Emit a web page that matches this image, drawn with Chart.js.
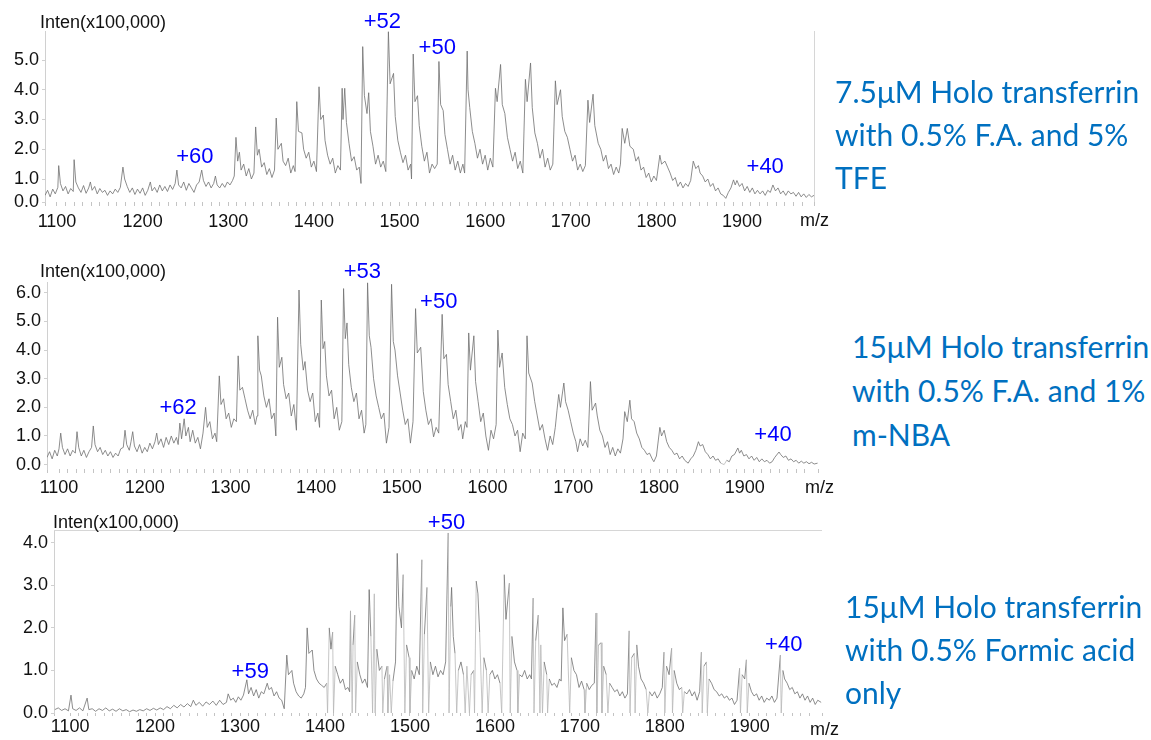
<!DOCTYPE html>
<html>
<head>
<meta charset="utf-8">
<script src="https://cdn.jsdelivr.net/npm/chart.js@4.4.1/dist/chart.umd.min.js"></script>
<style>
  body { margin: 0; background: #fff; width: 1151px; height: 740px; overflow: hidden; position: relative; }
  .panel { position: absolute; left: 0; }
  .note { position: absolute; color: #0070c0; font-family: Lato, "Open Sans", sans-serif; font-size: 30px; line-height: 43px; white-space: nowrap; }
</style>
</head>
<body>
<div class="panel" style="top:0"><canvas id="c1" width="850" height="236"></canvas></div>
<div class="panel" style="top:250px"><canvas id="c2" width="850" height="250"></canvas></div>
<div class="panel" style="top:500px"><canvas id="c3" width="850" height="240"></canvas></div>

<div class="note" style="left:835px;top:70px">7.5μM Holo transferrin<br>with 0.5% F.A. and 5%<br>TFE</div>
<div class="note" style="left:852px;top:324px;line-height:44px">15μM Holo transferrin<br>with 0.5% F.A. and 1%<br>m-NBA</div>
<div class="note" style="left:845px;top:585px">15μM Holo transferrin<br>with 0.5% Formic acid<br>only</div>

<script>
// spectra: [m/z, intensity (x100,000)]
const spec1 = [
  [1086,0.45],[1089,0.62],[1092,0.4],[1095,0.66],[1098,0.5],[1101,0.72],[1102,1.45],[1104,0.85],[1107,0.6],[1110,0.75],
  [1113,0.5],[1116,0.68],[1119,0.58],[1120,1.65],[1122,0.9],[1125,0.7],[1128,0.55],[1131,0.78],[1134,0.52],[1137,0.7],
  [1139,0.9],[1141,0.62],[1144,0.75],[1147,0.5],[1150,0.68],[1153,0.55],[1156,0.62],[1159,0.45],[1162,0.6],[1165,0.5],
  [1168,0.66],[1171,0.55],[1174,0.72],[1177,1.4],[1179,1.0],[1182,0.75],[1185,0.55],[1188,0.7],[1191,0.48],[1194,0.66],
  [1197,0.52],[1200,0.7],[1203,0.45],[1206,0.62],[1209,0.9],[1211,0.6],[1214,0.72],[1217,0.55],[1220,0.8],[1223,0.6],
  [1226,0.75],[1229,0.58],[1232,0.8],[1235,0.65],[1238,0.85],[1240,1.3],[1242,0.8],[1245,0.7],[1248,0.9],[1251,0.62],
  [1254,0.85],[1257,0.7],[1260,0.55],[1263,0.8],[1266,0.9],[1269,1.3],[1271,0.95],[1274,0.75],[1277,0.9],[1280,0.7],
  [1283,0.85],[1285,1.1],[1287,0.8],[1290,0.7],[1293,0.85],[1296,0.72],[1299,0.9],[1302,0.8],[1305,0.95],[1307,1.1],
  [1309,2.4],[1311,1.6],[1313,1.9],[1315,1.3],[1318,1.5],[1321,1.1],[1324,1.35],[1327,1.0],[1330,1.2],
  [1332,2.75],[1334,1.8],[1336,2.0],[1339,1.4],[1342,1.55],[1345,1.15],[1348,1.35],[1351,1.05],[1354,1.3],
  [1356,3.05],[1358,2.0],[1362,2.2],[1364,1.6],[1367,1.45],[1370,1.7],[1373,1.2],[1376,1.45],[1378,1.25],
  [1380,3.6],[1382,2.6],[1386,2.55],[1388,2.0],[1391,1.7],[1394,1.9],[1397,1.4],[1400,1.6],[1403,1.25],
  [1406,4.1],[1408,3.0],[1411,3.15],[1413,2.3],[1416,1.8],[1419,1.5],[1422,1.7],[1425,1.2],[1428,1.45],[1431,1.3],
  [1433,4.05],[1434,3.0],[1436,4.05],[1438,2.9],[1441,2.2],[1444,1.6],[1447,1.75],[1450,1.3],[1453,1.4],[1455,0.85],
  [1457,5.45],[1459,3.8],[1462,3.2],[1464,3.9],[1466,2.6],[1469,2.1],[1472,1.5],[1475,1.8],[1478,1.4],[1481,1.6],[1484,1.25],
  [1487,5.95],[1489,4.2],[1493,4.55],[1495,3.1],[1498,2.3],[1501,1.9],[1504,1.55],[1507,1.8],[1510,1.3],[1513,1.5],[1514,1.0],
  [1516,5.2],[1518,3.6],[1521,3.8],[1523,2.8],[1526,2.1],[1529,1.6],[1532,1.9],[1535,1.2],[1538,1.5],[1541,1.35],[1544,1.5],
  [1546,4.95],[1548,3.5],[1551,3.3],[1553,2.5],[1556,2.0],[1559,1.5],[1562,1.8],[1565,1.3],[1568,1.6],[1571,1.2],[1574,1.5],[1576,1.2],
  [1579,5.3],[1580,4.0],[1582,3.4],[1585,2.6],[1588,2.2],[1591,1.7],[1594,2.0],[1597,1.5],[1600,1.8],[1603,1.3],[1606,1.7],[1609,1.4],
  [1612,4.05],[1614,3.6],[1618,4.85],[1620,3.5],[1623,3.2],[1626,2.4],[1629,2.0],[1632,1.6],[1635,1.9],[1638,1.35],[1641,1.6],[1644,1.2],
  [1647,4.35],[1649,3.6],[1653,4.9],[1655,3.4],[1658,2.55],[1661,2.2],[1664,1.7],[1667,2.0],[1670,1.4],[1673,1.7],[1676,1.3],[1679,1.5],
  [1682,4.3],[1684,3.5],[1688,4.0],[1690,3.1],[1693,2.6],[1696,2.4],[1699,2.0],[1702,1.6],[1705,1.8],[1708,1.3],[1711,1.5],[1714,1.25],[1717,1.45],
  [1720,3.65],[1722,2.9],[1726,3.85],[1728,2.8],[1732,2.2],[1735,2.0],[1738,1.6],[1741,1.8],[1744,1.35],[1747,1.5],[1750,1.15],[1753,1.4],[1756,1.2],[1758,1.5],
  [1760,2.7],[1763,2.2],[1766,2.7],[1769,2.1],[1773,2.0],[1776,1.6],[1779,1.75],[1782,1.3],[1785,1.4],[1788,1.05],[1791,1.2],[1794,0.9],[1797,1.1],[1800,0.95],
  [1804,1.8],[1806,1.5],[1810,1.6],[1813,1.4],[1816,1.2],[1819,0.95],[1822,1.05],[1825,0.75],[1828,0.9],[1831,0.7],[1834,0.85],[1837,0.75],[1840,0.95],
  [1843,1.6],[1846,1.35],[1849,1.45],[1851,1.2],[1854,1.1],[1857,0.9],[1860,1.0],[1863,0.75],[1866,0.85],[1869,0.6],[1872,0.7],[1875,0.5],[1878,0.45],[1881,0.35],[1884,0.55],[1887,0.7],
  [1890,0.97],[1892,0.8],[1894,0.95],[1897,0.75],[1900,0.85],[1903,0.6],[1906,0.75],[1909,0.55],[1912,0.7],[1915,0.5],[1918,0.62],[1921,0.5],[1924,0.6],[1927,0.45],[1930,0.62],[1933,0.55],
  [1936,0.8],[1939,0.6],[1942,0.7],[1945,0.5],[1948,0.6],[1951,0.45],[1954,0.6],[1957,0.5],[1960,0.55],[1963,0.42],[1966,0.55],[1969,0.4],[1972,0.5],[1975,0.38],[1978,0.48],[1981,0.4],[1984,0.45]
];

const spec2 = [
  [1086,0.25],[1089,0.45],[1092,0.2],[1095,0.5],[1098,0.3],[1100,0.55],[1102,1.1],[1104,0.6],[1107,0.35],[1110,0.55],
  [1113,0.3],[1116,0.5],[1119,0.4],[1121,1.15],[1123,0.6],[1126,0.3],[1129,0.5],[1132,0.25],[1135,0.45],[1138,0.6],
  [1140,1.35],[1142,0.7],[1145,0.45],[1148,0.6],[1151,0.35],[1154,0.5],[1157,0.3],[1160,0.45],[1163,0.25],[1166,0.4],
  [1169,0.3],[1172,0.55],[1175,0.6],[1177,1.2],[1179,0.7],[1182,0.5],[1184,0.8],[1186,1.15],[1188,0.65],[1191,0.45],
  [1194,0.7],[1197,0.4],[1200,0.6],[1203,0.45],[1206,0.75],[1209,0.55],[1212,0.8],[1214,1.1],[1216,0.7],[1219,0.9],
  [1222,0.6],[1225,0.95],[1228,0.7],[1231,1.0],[1234,0.75],[1237,0.95],[1239,0.7],[1241,1.45],[1243,0.9],[1246,1.6],
  [1248,1.0],[1251,1.3],[1253,0.8],[1256,1.2],[1259,0.75],[1262,0.95],[1265,0.55],[1268,1.1],[1271,2.0],[1273,1.3],
  [1276,1.5],[1279,0.9],[1282,1.1],[1284,0.8],
  [1287,3.1],[1289,2.1],[1292,2.3],[1295,1.6],[1298,1.8],[1301,1.3],[1304,1.6],[1307,1.5],
  [1309,3.8],[1311,2.6],[1314,2.7],[1317,2.3],[1320,1.9],[1323,1.6],[1326,1.9],[1329,1.4],[1331,1.7],
  [1332,4.5],[1334,3.3],[1336,3.1],[1339,2.4],[1342,2.0],[1345,2.3],[1348,1.6],[1351,1.8],[1353,1.0],
  [1355,5.15],[1357,3.4],[1360,3.75],[1362,2.8],[1365,2.3],[1368,2.5],[1371,1.7],[1374,2.1],[1377,1.2],
  [1380,6.1],[1382,4.2],[1385,3.3],[1387,3.6],[1390,2.6],[1393,2.2],[1396,2.5],[1399,1.5],[1402,1.8],[1404,1.3],
  [1406,5.75],[1408,4.05],[1410,4.3],[1412,3.1],[1415,2.4],[1418,2.6],[1421,1.6],[1424,2.0],[1427,1.2],[1430,1.5],
  [1432,6.15],[1434,4.4],[1436,4.95],[1438,3.5],[1441,2.7],[1444,2.2],[1447,2.5],[1450,1.6],[1453,1.9],[1456,1.1],[1458,1.4],
  [1460,6.35],[1462,4.5],[1464,4.1],[1467,3.0],[1470,2.4],[1473,2.0],[1476,1.6],[1479,1.8],[1482,0.75],[1485,1.3],
  [1488,6.3],[1490,4.3],[1492,4.0],[1495,3.1],[1498,2.5],[1501,1.9],[1504,1.4],[1507,1.6],[1510,0.75],[1513,1.5],
  [1516,5.45],[1518,3.9],[1522,4.1],[1525,2.55],[1528,1.9],[1531,1.4],[1534,1.6],[1537,0.97],[1540,1.3],[1543,1.1],
  [1547,5.25],[1549,3.7],[1552,3.85],[1554,2.8],[1557,2.2],[1560,1.6],[1563,1.9],[1566,1.2],[1569,1.4],[1571,0.9],[1574,1.5],[1576,1.3],
  [1578,4.6],[1580,3.3],[1584,4.5],[1586,2.9],[1589,2.2],[1592,1.5],[1595,1.8],[1598,1.0],[1601,0.5],[1604,1.2],[1607,0.9],[1610,1.4],
  [1612,4.7],[1614,3.4],[1617,3.9],[1620,2.7],[1623,2.1],[1626,1.6],[1629,1.4],[1632,1.0],[1635,1.2],[1638,0.45],[1641,1.1],[1644,0.9],
  [1646,4.5],[1648,3.2],[1652,2.85],[1655,2.2],[1658,1.7],[1661,1.2],[1664,1.4],[1667,0.9],[1670,0.5],[1673,1.0],[1676,0.7],[1679,1.3],[1681,1.9],
  [1683,2.45],[1685,2.0],[1689,2.85],[1691,2.2],[1694,1.9],[1697,1.5],[1700,1.1],[1703,0.8],[1705,0.45],[1708,0.9],[1711,0.65],[1714,0.85],[1717,0.6],
  [1720,2.9],[1722,1.9],[1726,2.15],[1728,1.7],[1731,1.2],[1734,1.0],[1737,0.6],[1740,0.8],[1743,0.35],[1746,0.6],[1749,0.3],[1752,0.55],[1755,0.4],[1758,0.9],
  [1760,1.85],[1763,1.5],[1766,2.25],[1768,1.6],[1771,1.5],[1774,1.1],[1777,0.9],[1780,0.6],[1783,0.5],[1786,0.35],[1789,0.4],[1792,0.2],[1794,0.1],[1797,0.3],
  [1801,1.3],[1803,1.0],[1806,1.2],[1809,0.8],[1812,0.6],[1815,0.5],[1818,0.35],[1821,0.4],[1824,0.2],[1827,0.3],[1830,0.15],[1834,0.05],[1837,0.2],[1840,0.3],[1843,0.5],
  [1846,0.8],[1848,0.65],[1851,0.7],[1854,0.45],[1857,0.35],[1860,0.2],[1863,0.3],[1866,0.15],[1869,0.2],[1872,0.05],[1876,0.0],[1879,0.15],[1882,0.1],[1885,0.3],[1888,0.35],
  [1892,0.58],[1894,0.4],[1896,0.5],[1899,0.3],[1902,0.35],[1905,0.2],[1908,0.3],[1911,0.15],[1914,0.25],[1917,0.1],[1920,0.2],[1923,0.1],[1926,0.15],[1929,0.05],[1932,0.1],[1935,0.25],
  [1940,0.44],[1942,0.35],[1945,0.25],[1948,0.3],[1951,0.15],[1954,0.2],[1957,0.1],[1960,0.15],[1963,0.05],[1966,0.12],[1969,0.05],[1972,0.1],[1975,0.03],[1978,0.08],[1981,0.02],[1985,0.05]
];

const spec3 = [
  [1082,0.08],[1086,0.12],[1090,0.06],[1094,0.1],[1098,0.05],[1101,0.42],[1103,0.1],[1107,0.06],[1111,0.12],[1115,0.05],
  [1120,0.35],[1122,0.08],[1126,0.1],[1130,0.04],[1134,0.1],[1138,0.06],[1142,0.12],[1146,0.05],[1150,0.09],[1154,0.04],
  [1158,0.1],[1162,0.05],[1166,0.08],[1170,0.03],[1174,0.07],[1178,0.04],[1182,0.08],[1186,0.05],[1190,0.1],[1194,0.06],
  [1198,0.11],[1202,0.07],[1206,0.12],[1210,0.08],[1214,0.15],[1218,0.1],[1222,0.18],[1226,0.12],[1230,0.2],[1234,0.14],
  [1238,0.22],[1242,0.15],[1245,0.3],[1248,0.18],[1252,0.25],[1256,0.16],[1260,0.26],[1264,0.2],[1268,0.28],[1272,0.18],
  [1276,0.3],[1280,0.2],[1284,0.25],[1286,0.45],[1289,0.3],[1292,0.35],[1295,0.25],[1298,0.38],[1301,0.3],[1304,0.42],
  [1308,0.78],[1310,0.45],[1313,0.6],[1316,0.4],[1319,0.55],[1322,0.35],[1325,0.5],[1328,0.45],
  [1332,0.7],[1334,0.55],[1337,0.6],[1340,0.4],[1343,0.5],[1346,0.35],[1349,0.3],[1352,0.1],
  [1355,1.36],[1357,0.9],[1361,1.0],[1363,0.7],[1366,0.5],[1369,0.4],[1372,0.35],[1375,0.45],[1377,0.6],
  [1379,2.0],[1381,1.4],[1385,1.48],[1387,1.0],[1390,0.8],[1393,0.7],[1396,0.65],[1399,0.6],[1402,0.7],[1403,0.0],
  [1405,2.0],[1407,1.5],[1409,1.9],[1410,0.0],[1412,1.1],[1415,0.9],[1418,0.7],[1421,0.8],[1424,0.55],[1427,0.6],[1429,0.5],
  [1430,2.4],[1432,0.0],[1433,1.6],[1435,2.3],[1436,0.0],[1438,1.2],[1441,0.9],[1444,0.7],[1447,0.8],[1450,0.6],
  [1452,2.9],[1454,1.8],[1456,0.0],[1458,2.8],[1459,0.0],[1461,1.5],[1464,1.0],[1467,1.1],[1468,0.0],[1470,0.8],[1473,1.1],[1474,0.0],[1476,0.9],[1478,0.0],[1480,0.75],[1483,1.2],
  [1485,3.75],[1487,2.5],[1490,2.0],[1492,3.25],[1494,0.0],[1496,1.6],[1499,1.3],[1500,0.0],[1502,1.0],[1505,0.8],[1508,1.1],[1511,0.9],
  [1514,3.6],[1515,0.0],[1517,1.85],[1520,2.95],[1522,0.0],[1524,1.2],[1527,0.9],[1530,1.1],[1533,0.85],[1536,1.0],[1539,0.9],[1542,1.2],
  [1545,4.23],[1546,0.0],[1548,2.5],[1549,2.95],[1551,1.8],[1553,1.4],[1555,0.0],[1557,1.0],[1560,1.2],[1563,0.9],[1565,0.0],[1567,1.1],[1570,0.0],[1572,0.9],[1575,1.0],[1576,0.0],
  [1578,3.1],[1580,2.8],[1582,1.9],[1585,0.0],[1587,1.3],[1590,1.0],[1592,0.0],[1594,0.9],[1597,1.0],[1600,0.8],[1603,0.9],[1606,0.7],[1608,0.0],
  [1611,3.25],[1613,2.2],[1617,3.05],[1618,0.0],[1620,1.8],[1623,1.2],[1626,1.0],[1627,0.0],[1629,0.9],[1632,0.85],[1635,1.0],[1638,0.8],[1641,0.9],[1643,0.8],
  [1645,2.7],[1646,0.0],[1648,1.7],[1651,2.3],[1653,0.0],[1654,1.6],[1656,0.0],[1658,1.2],[1661,0.9],[1662,0.0],[1664,0.8],[1667,0.65],[1670,0.7],[1673,0.6],[1676,0.8],[1678,0.75],
  [1680,2.47],[1682,1.7],[1685,1.85],[1688,0.0],[1690,1.3],[1693,1.0],[1696,0.9],[1699,0.6],[1702,0.75],[1705,0.55],[1706,0.0],[1708,0.7],[1711,0.55],[1714,0.65],[1717,0.7],
  [1719,2.35],[1720,0.0],[1722,1.6],[1725,1.65],[1726,0.0],[1728,1.1],[1731,0.9],[1733,0.0],[1735,0.7],[1738,0.6],[1741,0.5],[1744,0.55],[1747,0.4],[1750,0.5],[1753,0.35],[1756,0.45],
  [1758,1.93],[1759,0.0],[1761,1.3],[1764,1.4],[1765,0.0],[1767,1.6],[1769,1.1],[1772,0.8],[1775,0.7],[1778,0.55],[1780,0.0],[1782,0.5],[1785,0.4],[1788,0.5],[1791,0.35],[1794,0.45],[1797,0.6],
  [1799,1.43],[1800,0.0],[1802,1.1],[1805,0.9],[1808,1.52],[1809,0.0],[1811,1.0],[1814,0.7],[1817,0.55],[1820,0.6],[1821,0.0],[1823,0.5],[1826,0.45],[1829,0.55],[1832,0.4],[1835,0.5],[1838,0.3],[1841,0.5],
  [1843,1.43],[1844,0.0],[1846,1.1],[1849,1.2],[1850,0.0],[1852,0.8],[1855,0.7],[1858,0.55],[1861,0.5],[1864,0.4],[1867,0.45],[1870,0.35],[1873,0.4],[1876,0.3],[1879,0.35],[1882,0.2],[1885,0.3],
  [1888,1.05],[1889,0.0],[1891,0.9],[1894,0.8],[1896,1.25],[1897,0.0],[1899,0.7],[1902,0.5],[1905,0.4],[1908,0.45],[1911,0.3],[1914,0.4],[1917,0.25],[1920,0.35],[1923,0.3],[1926,0.4],[1929,0.25],[1932,0.35],
  [1936,1.36],[1937,0.0],[1939,1.0],[1941,0.8],[1944,0.7],[1947,0.55],[1950,0.6],[1953,0.45],[1956,0.5],[1959,0.35],[1962,0.45],[1965,0.3],[1968,0.4],[1971,0.25],[1974,0.35],[1977,0.2],[1980,0.3],[1984,0.25]
];

// y tick labels
const yTicks1 = [0, 1, 2, 3, 4, 5];
const yTicks2 = [0, 1, 2, 3, 4, 5, 6];
const yTicks3 = [0, 1, 2, 3, 4];

// charge state labels: text, m/z, intensity
const charge1 = ['+52', '+50', '+60', '+40'];
const chargeMz1 = [1480, 1544, 1261, 1927];
const chargeInt1 = [6.28, 5.4, 1.74, 1.4];

const charge2 = ['+53', '+50', '+62', '+40'];
const chargeMz2 = [1454, 1543, 1239, 1933];
const chargeInt2 = [6.73, 5.68, 1.98, 1.03];

const charge3 = ['+50', '+59', '+40'];
const chargeMz3 = [1543, 1312, 1940];
const chargeInt3 = [4.47, 0.96, 1.6];

const FONT = '"Liberation Sans", Arial, sans-serif';

const spectrumText = {
  id: 'spectrumText',
  afterDraw(chart, args, o) {
    const ctx = chart.ctx, a = chart.chartArea;
    const x = chart.scales.x, y = chart.scales.y;
    ctx.save();
    ctx.strokeStyle = '#d6d6d6';
    ctx.lineWidth = 1;
    if (o.rightBorder) {
      ctx.beginPath(); ctx.moveTo(a.right + 0.5, a.top); ctx.lineTo(a.right + 0.5, a.bottom); ctx.stroke();
    }
    if (o.topBorder) {
      ctx.beginPath(); ctx.moveTo(a.left, a.top + 0.5); ctx.lineTo(a.right, a.top + 0.5); ctx.stroke();
    }
    ctx.fillStyle = '#111';
    ctx.font = '18px ' + FONT;
    ctx.textBaseline = 'middle';
    ctx.textAlign = 'left';
    ctx.fillText('Inten(x100,000)', o.inten[0], o.inten[1]);
    ctx.fillText('m/z', o.mz[0], o.mz[1]);
    ctx.fillStyle = '#0000ff';
    ctx.font = '22px ' + FONT;
    ctx.textAlign = 'center';
    o.labels.forEach((t, i) => {
      ctx.fillText(t, x.getPixelForValue(o.labelMz[i]), y.getPixelForValue(o.labelInt[i]));
    });
    ctx.restore();
  }
};

function makeSpectrum(id, spec, yTicks, labels, labelMz, labelInt, g) {
  const canvas = document.getElementById(id);
  return new Chart(canvas, {
    type: 'line',
    data: {
      datasets: [{
        data: spec.map(p => ({ x: p[0], y: p[1] })),
        borderColor: '#707070',
        borderWidth: 0.8,
        pointRadius: 0,
        tension: 0,
        fill: false,
        // drop-outs to zero are drawn faint, as in the instrument trace
        segment: {
          borderColor: c => (c.p0.parsed.y === 0 || c.p1.parsed.y === 0 ? '#b8b8b8' : undefined)
        }
      }]
    },
    options: {
      responsive: false,
      animation: false,
      devicePixelRatio: 1,
      layout: { padding: { left: 0, right: canvas.width - g.right, top: g.top, bottom: 0 } },
      plugins: {
        legend: { display: false },
        tooltip: { enabled: false },
        spectrumText: {
          labels: labels, labelMz: labelMz, labelInt: labelInt,
          inten: g.inten, mz: g.mz, rightBorder: g.rightBorder, topBorder: g.topBorder
        }
      },
      scales: {
        x: {
          type: 'linear',
          min: g.xMin,
          max: g.xMax,
          afterFit: s => { s.height = canvas.height - g.bottom; },
          border: { display: false },
          grid: { drawOnChartArea: false, drawTicks: true, tickLength: g.tickLen, color: '#c4c4c4' },
          ticks: {
            stepSize: 10,
            autoSkip: false,
            maxRotation: 0,
            padding: g.tickPad,
            color: '#111',
            font: { family: FONT, size: 18 },
            callback: v => (Math.abs(v % 100) < 0.01 ? String(Math.round(v)) : '')
          }
        },
        y: {
          min: g.yMin,
          max: g.yMax,
          afterFit: s => { s.width = g.left; },
          afterBuildTicks: s => { s.ticks = yTicks.map(v => ({ value: Math.max(v, g.yMin) })); },
          border: { display: true, color: '#d0d0d0' },
          grid: { drawOnChartArea: false, drawTicks: true, tickLength: 3, color: '#d0d0d0' },
          ticks: {
            padding: 3,
            color: '#111',
            font: { family: FONT, size: 18 },
            callback: (v, i) => yTicks[i].toFixed(1)
          }
        }
      }
    },
    plugins: [spectrumText]
  });
}

makeSpectrum('c1', spec1, yTicks1, charge1, chargeMz1, chargeInt1, {
  left: 45, right: 814, top: 31, bottom: 202,
  xMin: 1086, xMax: 1984, yMin: 0.227, yMax: 5.975,
  tickLen: 4, tickPad: 5, inten: [40, 23], mz: [800, 221], rightBorder: true
});

makeSpectrum('c2', spec2, yTicks2, charge2, chargeMz2, chargeInt2, {
  left: 47, right: 818, top: 32, bottom: 219,
  xMin: 1086, xMax: 1985.5, yMin: -0.154, yMax: 6.38,
  tickLen: 4, tickPad: 4, inten: [40, 22], mz: [805, 238]
});

makeSpectrum('c3', spec3, yTicks3, charge3, chargeMz3, chargeInt3, {
  left: 54, right: 822, top: 30, bottom: 213,
  xMin: 1081, xMax: 1985, yMin: 0, yMax: 4.3,
  tickLen: 3, tickPad: 0, inten: [53, 23], mz: [810, 230], topBorder: true
});
</script>
</body>
</html>
